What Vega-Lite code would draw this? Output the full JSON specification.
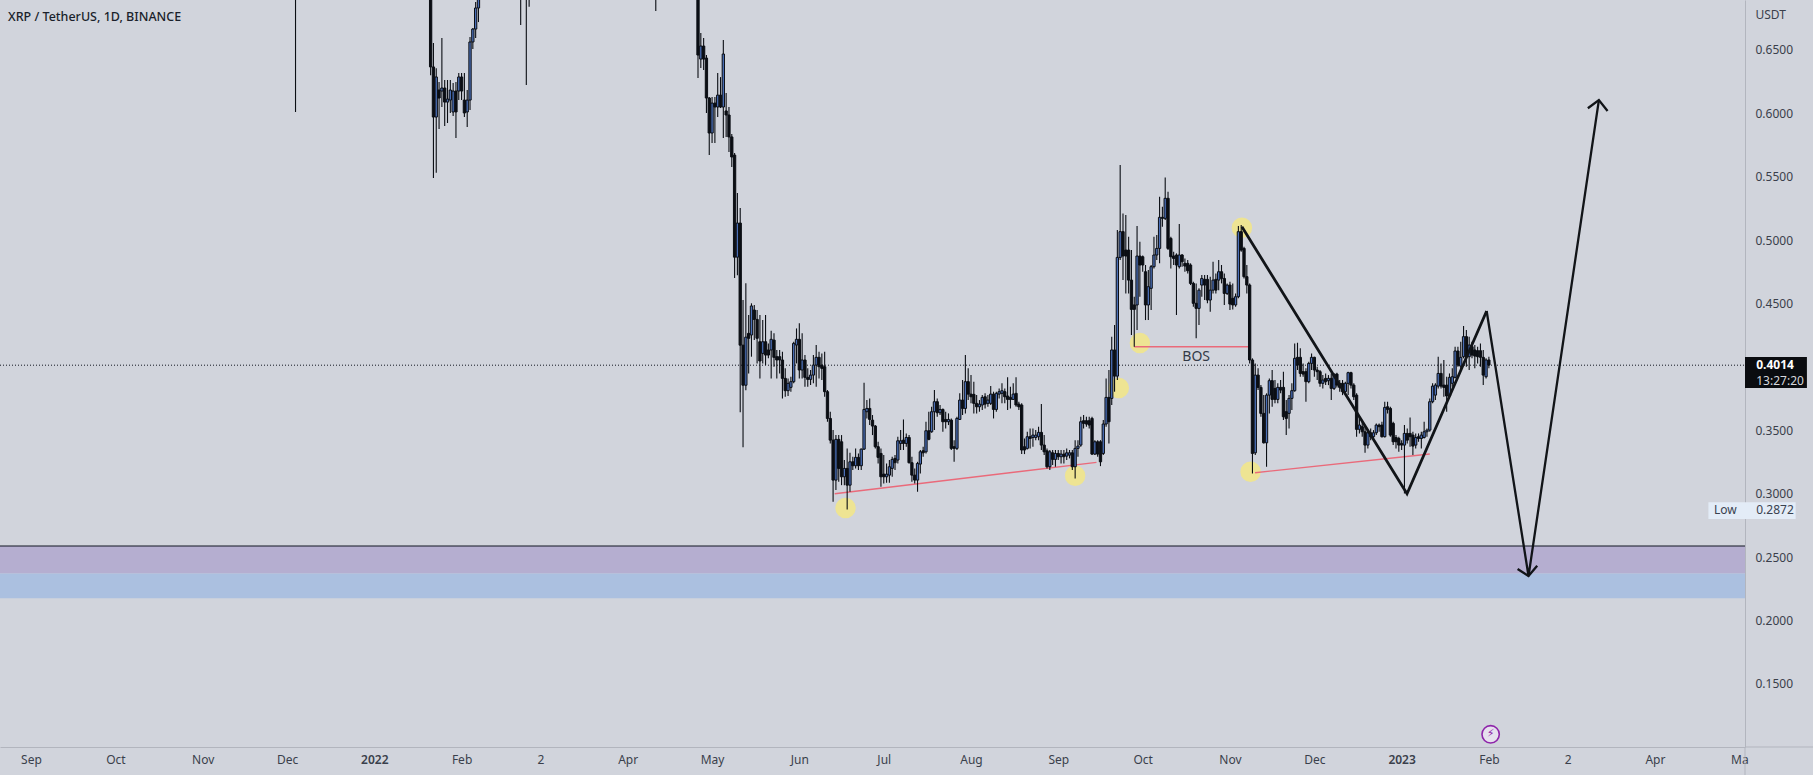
{"$schema":"https://vega.github.io/schema/vega-lite/v6.json","width":1745,"height":747,"padding":{"left":0,"top":0,"right":68,"bottom":28},"autosize":{"type":"none"},"background":"#d1d4dc","view":{"stroke":null},
"title":{"text":"XRP / TetherUS, 1D, BINANCE","anchor":"start","frame":"group","offset":-23,"dx":8,"font":"Noto Sans","fontSize":12.5,"fontWeight":500,"color":"#1a1f2b"},
"datasets":{"candles":[
{"t":"2021-12-04","o":0.86,"h":0.88,"l":0.6011,"c":0.8},
{"t":"2022-01-21","o":0.72,"h":0.74,"l":0.63,"c":0.6366},
{"t":"2022-01-22","o":0.6366,"h":0.6555,"l":0.549,"c":0.5971},
{"t":"2022-01-23","o":0.5971,"h":0.6355,"l":0.5532,"c":0.6287},
{"t":"2022-01-24","o":0.6184,"h":0.6247,"l":0.5876,"c":0.6121},
{"t":"2022-01-25","o":0.6176,"h":0.6594,"l":0.605,"c":0.62},
{"t":"2022-01-26","o":0.62,"h":0.6263,"l":0.59,"c":0.6089},
{"t":"2022-01-27","o":0.6089,"h":0.6263,"l":0.5924,"c":0.6113},
{"t":"2022-01-28","o":0.6105,"h":0.6263,"l":0.6002,"c":0.6184},
{"t":"2022-01-29","o":0.6011,"h":0.6239,"l":0.5979,"c":0.6176},
{"t":"2022-01-30","o":0.6176,"h":0.6247,"l":0.5806,"c":0.6011},
{"t":"2022-01-31","o":0.6176,"h":0.6318,"l":0.6105,"c":0.6287},
{"t":"2022-02-01","o":0.6287,"h":0.6318,"l":0.6105,"c":0.6176},
{"t":"2022-02-02","o":0.6105,"h":0.6318,"l":0.5971,"c":0.6003},
{"t":"2022-02-03","o":0.6011,"h":0.6184,"l":0.5893,"c":0.6105},
{"t":"2022-02-04","o":0.6105,"h":0.6602,"l":0.6027,"c":0.6563},
{"t":"2022-02-05","o":0.6563,"h":0.6673,"l":0.6508,"c":0.6665},
{"t":"2022-02-06","o":0.6665,"h":0.6878,"l":0.6594,"c":0.6831},
{"t":"2022-02-07","o":0.6831,"h":0.75,"l":0.672,"c":0.72},
{"t":"2022-02-22","o":0.74,"h":0.77,"l":0.6697,"c":0.72},
{"t":"2022-02-24","o":0.73,"h":0.75,"l":0.6224,"c":0.72},
{"t":"2022-02-25","o":0.72,"h":0.76,"l":0.684,"c":0.75},
{"t":"2022-04-11","o":0.74,"h":0.75,"l":0.6807,"c":0.7},
{"t":"2022-04-26","o":0.72,"h":0.73,"l":0.6279,"c":0.646},
{"t":"2022-04-27","o":0.6428,"h":0.6634,"l":0.6358,"c":0.6531},
{"t":"2022-04-28","o":0.6531,"h":0.6594,"l":0.6342,"c":0.6428},
{"t":"2022-04-29","o":0.6436,"h":0.646,"l":0.6003,"c":0.6121},
{"t":"2022-04-30","o":0.6121,"h":0.6129,"l":0.5671,"c":0.5845},
{"t":"2022-05-01","o":0.5845,"h":0.6129,"l":0.5766,"c":0.6081},
{"t":"2022-05-02","o":0.6081,"h":0.6129,"l":0.5766,"c":0.605},
{"t":"2022-05-03","o":0.605,"h":0.6318,"l":0.5971,"c":0.6144},
{"t":"2022-05-04","o":0.6144,"h":0.6286,"l":0.6042,"c":0.605},
{"t":"2022-05-05","o":0.605,"h":0.6578,"l":0.5806,"c":0.6468},
{"t":"2022-05-06","o":0.6019,"h":0.616,"l":0.5813,"c":0.5987},
{"t":"2022-05-07","o":0.5987,"h":0.605,"l":0.5695,"c":0.5814},
{"t":"2022-05-08","o":0.5814,"h":0.5837,"l":0.5577,"c":0.5656},
{"t":"2022-05-09","o":0.5671,"h":0.5687,"l":0.4702,"c":0.4866},
{"t":"2022-05-10","o":0.4866,"h":0.5372,"l":0.4724,"c":0.5135},
{"t":"2022-05-11","o":0.5135,"h":0.5253,"l":0.3643,"c":0.4172},
{"t":"2022-05-12","o":0.4172,"h":0.4528,"l":0.3367,"c":0.3856},
{"t":"2022-05-13","o":0.3856,"h":0.4661,"l":0.3817,"c":0.4235},
{"t":"2022-05-14","o":0.4265,"h":0.441,"l":0.3949,"c":0.4226},
{"t":"2022-05-15","o":0.4252,"h":0.4502,"l":0.4081,"c":0.4481},
{"t":"2022-05-16","o":0.4449,"h":0.4489,"l":0.4212,"c":0.4375},
{"t":"2022-05-17","o":0.4375,"h":0.4449,"l":0.4028,"c":0.4226},
{"t":"2022-05-18","o":0.4199,"h":0.441,"l":0.391,"c":0.4047},
{"t":"2022-05-19","o":0.4107,"h":0.437,"l":0.4028,"c":0.4199},
{"t":"2022-05-20","o":0.4199,"h":0.441,"l":0.4015,"c":0.4094},
{"t":"2022-05-21","o":0.4134,"h":0.4186,"l":0.4068,"c":0.4094},
{"t":"2022-05-22","o":0.4134,"h":0.4286,"l":0.391,"c":0.4218},
{"t":"2022-05-23","o":0.4212,"h":0.4265,"l":0.4002,"c":0.4076},
{"t":"2022-05-24","o":0.4081,"h":0.4134,"l":0.391,"c":0.4055},
{"t":"2022-05-25","o":0.4081,"h":0.4134,"l":0.3949,"c":0.4055},
{"t":"2022-05-26","o":0.4055,"h":0.412,"l":0.3752,"c":0.391},
{"t":"2022-05-27","o":0.391,"h":0.3989,"l":0.3765,"c":0.3813},
{"t":"2022-05-28","o":0.3813,"h":0.391,"l":0.3771,"c":0.3871},
{"t":"2022-05-29","o":0.3839,"h":0.3923,"l":0.3805,"c":0.3884},
{"t":"2022-05-30","o":0.3884,"h":0.4199,"l":0.3871,"c":0.4186},
{"t":"2022-05-31","o":0.4173,"h":0.4304,"l":0.4028,"c":0.4218},
{"t":"2022-06-01","o":0.4218,"h":0.4344,"l":0.391,"c":0.3976},
{"t":"2022-06-02","o":0.3976,"h":0.4265,"l":0.391,"c":0.4055},
{"t":"2022-06-03","o":0.4055,"h":0.4094,"l":0.3844,"c":0.3918},
{"t":"2022-06-04","o":0.3918,"h":0.3989,"l":0.3844,"c":0.3902},
{"t":"2022-06-05","o":0.3902,"h":0.3976,"l":0.3857,"c":0.3936},
{"t":"2022-06-06","o":0.3936,"h":0.4094,"l":0.3871,"c":0.4015},
{"t":"2022-06-07","o":0.4015,"h":0.4173,"l":0.3844,"c":0.4076},
{"t":"2022-06-08","o":0.4076,"h":0.412,"l":0.391,"c":0.4002},
{"t":"2022-06-09","o":0.4015,"h":0.4107,"l":0.3897,"c":0.3989},
{"t":"2022-06-10","o":0.4002,"h":0.412,"l":0.3765,"c":0.3805},
{"t":"2022-06-11","o":0.3805,"h":0.3818,"l":0.3568,"c":0.3594},
{"t":"2022-06-12","o":0.3594,"h":0.3647,"l":0.3397,"c":0.3423},
{"t":"2022-06-13","o":0.3423,"h":0.3502,"l":0.2937,"c":0.3108},
{"t":"2022-06-14","o":0.3108,"h":0.3463,"l":0.3029,"c":0.3429},
{"t":"2022-06-15","o":0.3429,"h":0.3463,"l":0.3095,"c":0.32},
{"t":"2022-06-16","o":0.341,"h":0.3463,"l":0.3068,"c":0.3134},
{"t":"2022-06-17","o":0.3134,"h":0.3266,"l":0.3068,"c":0.32},
{"t":"2022-06-18","o":0.32,"h":0.3358,"l":0.2876,"c":0.3068},
{"t":"2022-06-19","o":0.3068,"h":0.3323,"l":0.3016,"c":0.3252},
{"t":"2022-06-20","o":0.3252,"h":0.3292,"l":0.3187,"c":0.3221},
{"t":"2022-06-21","o":0.3221,"h":0.3358,"l":0.32,"c":0.3287},
{"t":"2022-06-22","o":0.3287,"h":0.3318,"l":0.3187,"c":0.3221},
{"t":"2022-06-23","o":0.3221,"h":0.3358,"l":0.3187,"c":0.3352},
{"t":"2022-06-24","o":0.3352,"h":0.3876,"l":0.3345,"c":0.3665},
{"t":"2022-06-25","o":0.3647,"h":0.3739,"l":0.3594,"c":0.3673},
{"t":"2022-06-26","o":0.3673,"h":0.3752,"l":0.3542,"c":0.3586},
{"t":"2022-06-27","o":0.3581,"h":0.3621,"l":0.3463,"c":0.3534},
{"t":"2022-06-28","o":0.3534,"h":0.3542,"l":0.3358,"c":0.3371},
{"t":"2022-06-29","o":0.3371,"h":0.341,"l":0.3239,"c":0.3287},
{"t":"2022-06-30","o":0.3318,"h":0.3358,"l":0.3055,"c":0.3134},
{"t":"2022-07-01","o":0.3155,"h":0.3305,"l":0.3082,"c":0.3134},
{"t":"2022-07-02","o":0.3134,"h":0.3239,"l":0.3087,"c":0.3155},
{"t":"2022-07-03","o":0.3147,"h":0.3266,"l":0.3087,"c":0.3213},
{"t":"2022-07-04","o":0.32,"h":0.3292,"l":0.3134,"c":0.3271},
{"t":"2022-07-05","o":0.3279,"h":0.3305,"l":0.3187,"c":0.3245},
{"t":"2022-07-06","o":0.3266,"h":0.345,"l":0.3239,"c":0.3418},
{"t":"2022-07-07","o":0.3397,"h":0.3502,"l":0.3345,"c":0.3418},
{"t":"2022-07-08","o":0.3423,"h":0.3586,"l":0.3345,"c":0.3397},
{"t":"2022-07-09","o":0.3397,"h":0.3476,"l":0.3371,"c":0.3444},
{"t":"2022-07-10","o":0.3444,"h":0.3463,"l":0.3239,"c":0.3245},
{"t":"2022-07-11","o":0.3245,"h":0.3292,"l":0.3095,"c":0.3147},
{"t":"2022-07-12","o":0.3147,"h":0.32,"l":0.3082,"c":0.3108},
{"t":"2022-07-13","o":0.3108,"h":0.3252,"l":0.3016,"c":0.3239},
{"t":"2022-07-14","o":0.3234,"h":0.3345,"l":0.316,"c":0.3331},
{"t":"2022-07-15","o":0.3339,"h":0.3371,"l":0.3292,"c":0.3323},
{"t":"2022-07-16","o":0.3331,"h":0.3568,"l":0.3318,"c":0.3497},
{"t":"2022-07-17","o":0.3497,"h":0.3647,"l":0.3423,"c":0.3429},
{"t":"2022-07-18","o":0.3489,"h":0.3686,"l":0.3481,"c":0.3647},
{"t":"2022-07-19","o":0.3647,"h":0.3818,"l":0.3502,"c":0.3726},
{"t":"2022-07-20","o":0.3726,"h":0.3752,"l":0.3608,"c":0.3639},
{"t":"2022-07-21","o":0.3639,"h":0.37,"l":0.3621,"c":0.3665},
{"t":"2022-07-22","o":0.3665,"h":0.3673,"l":0.3489,"c":0.3568},
{"t":"2022-07-23","o":0.3586,"h":0.3647,"l":0.3515,"c":0.3568},
{"t":"2022-07-24","o":0.3568,"h":0.3634,"l":0.3542,"c":0.3586},
{"t":"2022-07-25","o":0.3581,"h":0.3594,"l":0.3345,"c":0.3358},
{"t":"2022-07-26","o":0.3371,"h":0.3423,"l":0.3252,"c":0.3358},
{"t":"2022-07-27","o":0.3358,"h":0.3608,"l":0.3345,"c":0.3594},
{"t":"2022-07-28","o":0.3586,"h":0.3792,"l":0.3581,"c":0.3739},
{"t":"2022-07-29","o":0.3739,"h":0.3897,"l":0.3621,"c":0.3673},
{"t":"2022-07-30","o":0.3673,"h":0.4094,"l":0.3634,"c":0.3884},
{"t":"2022-07-31","o":0.3884,"h":0.3989,"l":0.3739,"c":0.3786},
{"t":"2022-08-01","o":0.3786,"h":0.3936,"l":0.3713,"c":0.3765},
{"t":"2022-08-02","o":0.3784,"h":0.3884,"l":0.3634,"c":0.3713},
{"t":"2022-08-03","o":0.3713,"h":0.3778,"l":0.3634,"c":0.3686},
{"t":"2022-08-04","o":0.3686,"h":0.3739,"l":0.3647,"c":0.3707},
{"t":"2022-08-05","o":0.37,"h":0.3778,"l":0.366,"c":0.376},
{"t":"2022-08-06","o":0.3765,"h":0.3792,"l":0.3673,"c":0.3707},
{"t":"2022-08-07","o":0.3713,"h":0.3778,"l":0.3686,"c":0.3739},
{"t":"2022-08-08","o":0.3713,"h":0.3849,"l":0.37,"c":0.3786},
{"t":"2022-08-09","o":0.3786,"h":0.3805,"l":0.3594,"c":0.3665},
{"t":"2022-08-10","o":0.3665,"h":0.3805,"l":0.3647,"c":0.3792},
{"t":"2022-08-11","o":0.3786,"h":0.3831,"l":0.3752,"c":0.3805},
{"t":"2022-08-12","o":0.3792,"h":0.3871,"l":0.3713,"c":0.3813},
{"t":"2022-08-13","o":0.3805,"h":0.3831,"l":0.3713,"c":0.3765},
{"t":"2022-08-14","o":0.3771,"h":0.3918,"l":0.366,"c":0.3744},
{"t":"2022-08-15","o":0.376,"h":0.3844,"l":0.3673,"c":0.3744},
{"t":"2022-08-16","o":0.3744,"h":0.3871,"l":0.3739,"c":0.3786},
{"t":"2022-08-17","o":0.3792,"h":0.3918,"l":0.3686,"c":0.37},
{"t":"2022-08-18","o":0.3707,"h":0.3726,"l":0.366,"c":0.3686},
{"t":"2022-08-19","o":0.37,"h":0.3713,"l":0.3313,"c":0.3345},
{"t":"2022-08-20","o":0.3371,"h":0.3436,"l":0.3313,"c":0.3345},
{"t":"2022-08-21","o":0.3358,"h":0.3489,"l":0.335,"c":0.345},
{"t":"2022-08-22","o":0.345,"h":0.3515,"l":0.3358,"c":0.3436},
{"t":"2022-08-23","o":0.3444,"h":0.3515,"l":0.3371,"c":0.3463},
{"t":"2022-08-24","o":0.3444,"h":0.3502,"l":0.3423,"c":0.3463},
{"t":"2022-08-25","o":0.345,"h":0.3529,"l":0.3423,"c":0.3484},
{"t":"2022-08-26","o":0.3484,"h":0.3707,"l":0.3345,"c":0.3384},
{"t":"2022-08-27","o":0.3384,"h":0.3463,"l":0.3305,"c":0.3331},
{"t":"2022-08-28","o":0.3339,"h":0.3358,"l":0.32,"c":0.3213},
{"t":"2022-08-29","o":0.3213,"h":0.3345,"l":0.3187,"c":0.3331},
{"t":"2022-08-30","o":0.3323,"h":0.3345,"l":0.3226,"c":0.3271},
{"t":"2022-08-31","o":0.3271,"h":0.3345,"l":0.3213,"c":0.3318},
{"t":"2022-09-01","o":0.3318,"h":0.3345,"l":0.3266,"c":0.3292},
{"t":"2022-09-02","o":0.3292,"h":0.3345,"l":0.3239,"c":0.3313},
{"t":"2022-09-03","o":0.3313,"h":0.3345,"l":0.3239,"c":0.3292},
{"t":"2022-09-04","o":0.3297,"h":0.3358,"l":0.3266,"c":0.3323},
{"t":"2022-09-05","o":0.3305,"h":0.3345,"l":0.3279,"c":0.3323},
{"t":"2022-09-06","o":0.3323,"h":0.3345,"l":0.3187,"c":0.3213},
{"t":"2022-09-07","o":0.3213,"h":0.3423,"l":0.3121,"c":0.3358},
{"t":"2022-09-08","o":0.3358,"h":0.3423,"l":0.3292,"c":0.3376},
{"t":"2022-09-09","o":0.3384,"h":0.3608,"l":0.3371,"c":0.3568},
{"t":"2022-09-10","o":0.3576,"h":0.3621,"l":0.3515,"c":0.3555},
{"t":"2022-09-11","o":0.3576,"h":0.3608,"l":0.3529,"c":0.355},
{"t":"2022-09-12","o":0.3576,"h":0.3608,"l":0.3515,"c":0.3542},
{"t":"2022-09-13","o":0.3594,"h":0.3608,"l":0.3305,"c":0.3313},
{"t":"2022-09-14","o":0.3313,"h":0.3423,"l":0.3305,"c":0.341},
{"t":"2022-09-15","o":0.341,"h":0.3423,"l":0.3292,"c":0.3313},
{"t":"2022-09-16","o":0.341,"h":0.3423,"l":0.3218,"c":0.3252},
{"t":"2022-09-17","o":0.3318,"h":0.3581,"l":0.3305,"c":0.355},
{"t":"2022-09-18","o":0.355,"h":0.391,"l":0.3529,"c":0.376},
{"t":"2022-09-19","o":0.376,"h":0.3976,"l":0.3397,"c":0.3568},
{"t":"2022-09-20","o":0.3752,"h":0.4239,"l":0.37,"c":0.4134},
{"t":"2022-09-21","o":0.4134,"h":0.4331,"l":0.3805,"c":0.3928},
{"t":"2022-09-22","o":0.3928,"h":0.508,"l":0.3897,"c":0.4864},
{"t":"2022-09-23","o":0.4864,"h":0.5593,"l":0.4843,"c":0.5067},
{"t":"2022-09-24","o":0.5067,"h":0.5211,"l":0.4685,"c":0.4875},
{"t":"2022-09-25","o":0.4922,"h":0.5198,"l":0.458,"c":0.4875},
{"t":"2022-09-26","o":0.4922,"h":0.5027,"l":0.458,"c":0.4685},
{"t":"2022-09-27","o":0.4685,"h":0.4922,"l":0.4252,"c":0.4454},
{"t":"2022-09-28","o":0.4489,"h":0.4554,"l":0.416,"c":0.4454},
{"t":"2022-09-29","o":0.4489,"h":0.5111,"l":0.4291,"c":0.4875},
{"t":"2022-09-30","o":0.4875,"h":0.4988,"l":0.4554,"c":0.4804},
{"t":"2022-10-01","o":0.4869,"h":0.488,"l":0.4751,"c":0.4804},
{"t":"2022-10-02","o":0.4751,"h":0.4804,"l":0.437,"c":0.4489},
{"t":"2022-10-03","o":0.4489,"h":0.4764,"l":0.437,"c":0.4633},
{"t":"2022-10-04","o":0.462,"h":0.4804,"l":0.4449,"c":0.4791},
{"t":"2022-10-05","o":0.4791,"h":0.5027,"l":0.4777,"c":0.4883},
{"t":"2022-10-06","o":0.4883,"h":0.504,"l":0.4843,"c":0.4935},
{"t":"2022-10-07","o":0.4935,"h":0.5343,"l":0.4817,"c":0.518},
{"t":"2022-10-08","o":0.518,"h":0.5264,"l":0.5106,"c":0.5172},
{"t":"2022-10-09","o":0.5172,"h":0.5495,"l":0.5159,"c":0.533},
{"t":"2022-10-10","o":0.533,"h":0.5382,"l":0.4922,"c":0.4935},
{"t":"2022-10-11","o":0.5014,"h":0.5027,"l":0.4777,"c":0.4869},
{"t":"2022-10-12","o":0.4875,"h":0.4909,"l":0.4804,"c":0.4856},
{"t":"2022-10-13","o":0.4883,"h":0.4896,"l":0.441,"c":0.4804},
{"t":"2022-10-14","o":0.4791,"h":0.5127,"l":0.4777,"c":0.4883},
{"t":"2022-10-15","o":0.4883,"h":0.489,"l":0.4791,"c":0.483},
{"t":"2022-10-16","o":0.4817,"h":0.4856,"l":0.4751,"c":0.4796},
{"t":"2022-10-17","o":0.4817,"h":0.4843,"l":0.4738,"c":0.4759},
{"t":"2022-10-18","o":0.4804,"h":0.4817,"l":0.4646,"c":0.4659},
{"t":"2022-10-19","o":0.4659,"h":0.4672,"l":0.4475,"c":0.4502},
{"t":"2022-10-20","o":0.4502,"h":0.4659,"l":0.4226,"c":0.4462},
{"t":"2022-10-21","o":0.4462,"h":0.462,"l":0.4331,"c":0.4606},
{"t":"2022-10-22","o":0.4646,"h":0.4725,"l":0.4554,"c":0.4698},
{"t":"2022-10-23","o":0.4691,"h":0.4725,"l":0.4528,"c":0.4646},
{"t":"2022-10-24","o":0.4691,"h":0.4725,"l":0.4502,"c":0.4528},
{"t":"2022-10-25","o":0.4528,"h":0.4712,"l":0.4436,"c":0.4606},
{"t":"2022-10-26","o":0.4606,"h":0.483,"l":0.458,"c":0.4685},
{"t":"2022-10-27","o":0.4691,"h":0.4738,"l":0.458,"c":0.4606},
{"t":"2022-10-28","o":0.4685,"h":0.4843,"l":0.4606,"c":0.4751},
{"t":"2022-10-29","o":0.4751,"h":0.4804,"l":0.4659,"c":0.4698},
{"t":"2022-10-30","o":0.4698,"h":0.4738,"l":0.4489,"c":0.458},
{"t":"2022-10-31","o":0.458,"h":0.4659,"l":0.4567,"c":0.4646},
{"t":"2022-11-01","o":0.4646,"h":0.4672,"l":0.4449,"c":0.4496},
{"t":"2022-11-02","o":0.4541,"h":0.4659,"l":0.4454,"c":0.4489},
{"t":"2022-11-03","o":0.4489,"h":0.458,"l":0.4475,"c":0.4554},
{"t":"2022-11-04","o":0.4554,"h":0.5111,"l":0.4541,"c":0.5067},
{"t":"2022-11-05","o":0.5067,"h":0.5119,"l":0.4909,"c":0.4922},
{"t":"2022-11-06","o":0.4935,"h":0.4948,"l":0.4698,"c":0.4712},
{"t":"2022-11-07","o":0.4712,"h":0.4804,"l":0.458,"c":0.4646},
{"t":"2022-11-08","o":0.4646,"h":0.4659,"l":0.4028,"c":0.4055},
{"t":"2022-11-09","o":0.4055,"h":0.4068,"l":0.316,"c":0.3318},
{"t":"2022-11-10","o":0.3323,"h":0.4028,"l":0.3305,"c":0.3936},
{"t":"2022-11-11","o":0.3936,"h":0.3989,"l":0.3818,"c":0.3839},
{"t":"2022-11-12","o":0.3839,"h":0.3857,"l":0.3608,"c":0.3634},
{"t":"2022-11-13","o":0.3634,"h":0.3778,"l":0.3397,"c":0.3402},
{"t":"2022-11-14","o":0.3402,"h":0.3792,"l":0.3213,"c":0.3778},
{"t":"2022-11-15","o":0.3778,"h":0.391,"l":0.3634,"c":0.3892},
{"t":"2022-11-16","o":0.3892,"h":0.3976,"l":0.3686,"c":0.3744},
{"t":"2022-11-17","o":0.3831,"h":0.3897,"l":0.3713,"c":0.3744},
{"t":"2022-11-18","o":0.3744,"h":0.3871,"l":0.3713,"c":0.3839},
{"t":"2022-11-19","o":0.3839,"h":0.3897,"l":0.3792,"c":0.3818},
{"t":"2022-11-20","o":0.3839,"h":0.3963,"l":0.3581,"c":0.3608},
{"t":"2022-11-21","o":0.3647,"h":0.3739,"l":0.3463,"c":0.3594},
{"t":"2022-11-22","o":0.3634,"h":0.3778,"l":0.3515,"c":0.3752},
{"t":"2022-11-23","o":0.3752,"h":0.3871,"l":0.366,"c":0.3813},
{"t":"2022-11-24","o":0.3813,"h":0.4186,"l":0.3805,"c":0.4068},
{"t":"2022-11-25","o":0.4076,"h":0.4191,"l":0.3976,"c":0.4015},
{"t":"2022-11-26","o":0.4076,"h":0.4147,"l":0.3923,"c":0.3949},
{"t":"2022-11-27","o":0.3963,"h":0.4028,"l":0.3923,"c":0.3944},
{"t":"2022-11-28","o":0.3963,"h":0.3989,"l":0.3726,"c":0.3884},
{"t":"2022-11-29","o":0.3884,"h":0.4041,"l":0.3871,"c":0.4028},
{"t":"2022-11-30","o":0.4028,"h":0.4107,"l":0.3976,"c":0.4076},
{"t":"2022-12-01","o":0.4076,"h":0.4081,"l":0.3923,"c":0.3976},
{"t":"2022-12-02","o":0.3976,"h":0.4002,"l":0.3897,"c":0.3963},
{"t":"2022-12-03","o":0.3963,"h":0.3976,"l":0.3844,"c":0.3871},
{"t":"2022-12-04","o":0.3871,"h":0.3936,"l":0.3831,"c":0.3897},
{"t":"2022-12-05","o":0.391,"h":0.3949,"l":0.3857,"c":0.3884},
{"t":"2022-12-06","o":0.3892,"h":0.3936,"l":0.3857,"c":0.391},
{"t":"2022-12-07","o":0.391,"h":0.3949,"l":0.3739,"c":0.3831},
{"t":"2022-12-08","o":0.3831,"h":0.3949,"l":0.3818,"c":0.3944},
{"t":"2022-12-09","o":0.3944,"h":0.3955,"l":0.3839,"c":0.3857},
{"t":"2022-12-10","o":0.3871,"h":0.3897,"l":0.3805,"c":0.3839},
{"t":"2022-12-11","o":0.3871,"h":0.3897,"l":0.3778,"c":0.3805},
{"t":"2022-12-12","o":0.3805,"h":0.3884,"l":0.3792,"c":0.3871},
{"t":"2022-12-13","o":0.3871,"h":0.3963,"l":0.3778,"c":0.3955},
{"t":"2022-12-14","o":0.3955,"h":0.3963,"l":0.3831,"c":0.3857},
{"t":"2022-12-15","o":0.3857,"h":0.3871,"l":0.3739,"c":0.3765},
{"t":"2022-12-16","o":0.3778,"h":0.3792,"l":0.345,"c":0.3508},
{"t":"2022-12-17","o":0.3508,"h":0.3608,"l":0.3476,"c":0.3542},
{"t":"2022-12-18","o":0.3529,"h":0.3568,"l":0.345,"c":0.3489},
{"t":"2022-12-19","o":0.3489,"h":0.3529,"l":0.3323,"c":0.3384},
{"t":"2022-12-20","o":0.3384,"h":0.3502,"l":0.3358,"c":0.3481},
{"t":"2022-12-21","o":0.3481,"h":0.3515,"l":0.3423,"c":0.345},
{"t":"2022-12-22","o":0.345,"h":0.3502,"l":0.3423,"c":0.3481},
{"t":"2022-12-23","o":0.3481,"h":0.3555,"l":0.3463,"c":0.3542},
{"t":"2022-12-24","o":0.3542,"h":0.3555,"l":0.3489,"c":0.3529},
{"t":"2022-12-25","o":0.3542,"h":0.3568,"l":0.3444,"c":0.345},
{"t":"2022-12-26","o":0.345,"h":0.3726,"l":0.3444,"c":0.3681},
{"t":"2022-12-27","o":0.3686,"h":0.3726,"l":0.3634,"c":0.3665},
{"t":"2022-12-28","o":0.3673,"h":0.3686,"l":0.345,"c":0.3463},
{"t":"2022-12-29","o":0.3555,"h":0.3568,"l":0.3384,"c":0.341},
{"t":"2022-12-30","o":0.3444,"h":0.3463,"l":0.3358,"c":0.341},
{"t":"2022-12-31","o":0.3436,"h":0.345,"l":0.3331,"c":0.3384},
{"t":"2023-01-01","o":0.3397,"h":0.3423,"l":0.3345,"c":0.3384},
{"t":"2023-01-02","o":0.3384,"h":0.3542,"l":0.3003,"c":0.3476},
{"t":"2023-01-03","o":0.3476,"h":0.3515,"l":0.3397,"c":0.3423},
{"t":"2023-01-04","o":0.3476,"h":0.3602,"l":0.3371,"c":0.345},
{"t":"2023-01-05","o":0.3463,"h":0.3489,"l":0.3305,"c":0.3376},
{"t":"2023-01-06","o":0.3384,"h":0.3476,"l":0.3358,"c":0.3444},
{"t":"2023-01-07","o":0.345,"h":0.3476,"l":0.341,"c":0.3436},
{"t":"2023-01-08","o":0.3436,"h":0.3489,"l":0.3358,"c":0.3463},
{"t":"2023-01-09","o":0.3444,"h":0.3568,"l":0.3436,"c":0.3489},
{"t":"2023-01-10","o":0.3489,"h":0.3515,"l":0.345,"c":0.3502},
{"t":"2023-01-11","o":0.3502,"h":0.3752,"l":0.3489,"c":0.3726},
{"t":"2023-01-12","o":0.3726,"h":0.3871,"l":0.3713,"c":0.3849},
{"t":"2023-01-13","o":0.3778,"h":0.3871,"l":0.3739,"c":0.3857},
{"t":"2023-01-14","o":0.3849,"h":0.4081,"l":0.3831,"c":0.3949},
{"t":"2023-01-15","o":0.3949,"h":0.4028,"l":0.3831,"c":0.3849},
{"t":"2023-01-16","o":0.3857,"h":0.4055,"l":0.3765,"c":0.3839},
{"t":"2023-01-17","o":0.3857,"h":0.3923,"l":0.3647,"c":0.3771},
{"t":"2023-01-18","o":0.3771,"h":0.3949,"l":0.3752,"c":0.3918},
{"t":"2023-01-19","o":0.3871,"h":0.3989,"l":0.3844,"c":0.3923},
{"t":"2023-01-20","o":0.3918,"h":0.416,"l":0.391,"c":0.4126},
{"t":"2023-01-21","o":0.4126,"h":0.416,"l":0.4002,"c":0.4015},
{"t":"2023-01-22","o":0.4007,"h":0.4199,"l":0.3976,"c":0.4076},
{"t":"2023-01-23","o":0.4081,"h":0.4323,"l":0.4068,"c":0.4239},
{"t":"2023-01-24","o":0.4239,"h":0.4291,"l":0.4002,"c":0.4081},
{"t":"2023-01-25","o":0.4081,"h":0.4239,"l":0.3976,"c":0.4173},
{"t":"2023-01-26","o":0.416,"h":0.4199,"l":0.4068,"c":0.4094},
{"t":"2023-01-27","o":0.4134,"h":0.4173,"l":0.3989,"c":0.4086},
{"t":"2023-01-28","o":0.4128,"h":0.416,"l":0.4028,"c":0.4081},
{"t":"2023-01-29","o":0.4128,"h":0.4186,"l":0.4002,"c":0.4076},
{"t":"2023-01-30","o":0.4076,"h":0.4134,"l":0.3857,"c":0.3936},
{"t":"2023-01-31","o":0.3923,"h":0.4068,"l":0.391,"c":0.4055},
{"t":"2023-02-01","o":0.4055,"h":0.4081,"l":0.3989,"c":0.4015}
]},
"encoding":{
"x":{"field":"t","type":"temporal","scale":{"type":"utc","padding":0,"domain":[{"year":2021,"month":8,"date":21,"utc":true},{"year":2023,"month":5,"date":3,"utc":true}]},"axis":{"title":null,"orient":"bottom","grid":false,"ticks":false,"domain":true,"domainColor":"#b2b5be","domainWidth":1,"labelPadding":7,"labelFont":"Noto Sans","labelFontSize":12,"labelColor":"#3a3f4b","labelOverlap":false,"labelBound":false,"labelFlush":false,"values":[{"year":2021,"month":9,"date":1,"utc":true},{"year":2021,"month":10,"date":1,"utc":true},{"year":2021,"month":11,"date":1,"utc":true},{"year":2021,"month":12,"date":1,"utc":true},{"year":2022,"month":1,"date":1,"utc":true},{"year":2022,"month":2,"date":1,"utc":true},{"year":2022,"month":3,"date":1,"utc":true},{"year":2022,"month":4,"date":1,"utc":true},{"year":2022,"month":5,"date":1,"utc":true},{"year":2022,"month":6,"date":1,"utc":true},{"year":2022,"month":7,"date":1,"utc":true},{"year":2022,"month":8,"date":1,"utc":true},{"year":2022,"month":9,"date":1,"utc":true},{"year":2022,"month":10,"date":1,"utc":true},{"year":2022,"month":11,"date":1,"utc":true},{"year":2022,"month":12,"date":1,"utc":true},{"year":2023,"month":1,"date":1,"utc":true},{"year":2023,"month":2,"date":1,"utc":true},{"year":2023,"month":3,"date":1,"utc":true},{"year":2023,"month":4,"date":1,"utc":true},{"year":2023,"month":5,"date":1,"utc":true}],"labelExpr":"utcmonth(datum.value)==0 ? utcFormat(datum.value,'%Y') : utcmonth(datum.value)==2 ? '2' : (utcmonth(datum.value)==4 && utcyear(datum.value)==2023) ? 'Ma' : utcFormat(datum.value,'%b')","labelFontWeight":{"condition":{"test":"utcmonth(datum.value)==0","value":600},"value":400}}},
"y":{"field":"p","type":"quantitative","scale":{"domain":[0.1003,0.6894],"zero":false,"nice":false,"padding":0},"axis":{"orient":"right","title":"USDT","titleAngle":0,"titleX":10,"titleY":14,"titleAlign":"left","titleBaseline":"middle","titleFont":"Noto Sans","titleFontSize":12,"titleFontWeight":400,"titleColor":"#3a3f4b","grid":false,"ticks":false,"domain":true,"domainColor":"#b2b5be","labelPadding":10,"labelFont":"Noto Sans","labelFontSize":12,"labelColor":"#3a3f4b","format":".4f","values":[0.15,0.2,0.25,0.3,0.35,0.4,0.45,0.5,0.55,0.6,0.65],"labelExpr":"datum.value==0.4 ? '' : datum.label"}}
},
"layer":[
{"data":{"values":[{"t":"2021-08-21","t2":"2023-05-03","p":0.2588,"p2":0.2372,"k":"a"},{"t":"2021-08-21","t2":"2023-05-03","p":0.2372,"p2":0.2176,"k":"b"}]},"mark":{"type":"rect"},"encoding":{"x2":{"field":"t2"},"y2":{"field":"p2"},"color":{"field":"k","type":"nominal","legend":null,"scale":{"domain":["a","b"],"range":["#b5aed0","#abc0e0"]}}}},
{"data":{"values":[{"t":"2021-08-21","t2":"2023-05-03","p":0.2588}]},"mark":{"type":"rule","color":"#131722","strokeWidth":1.2},"encoding":{"x2":{"field":"t2"}}},
{"data":{"values":[{"t":"2021-08-21","t2":"2023-05-03","p":0.4014}]},"mark":{"type":"rule","color":"#131722","strokeWidth":1,"strokeDash":[1,2]},"encoding":{"x2":{"field":"t2"}}},
{"data":{"values":[{"t":"2022-06-17T10:00:00Z","p":0.2888},{"t":"2022-09-07T00:00:00Z","p":0.3142},{"t":"2022-09-22T12:00:00Z","p":0.3834},{"t":"2022-09-30T00:00:00Z","p":0.4189},{"t":"2022-11-05T06:00:00Z","p":0.5098},{"t":"2022-11-08T08:00:00Z","p":0.3174}]},"mark":{"type":"point","shape":"circle","filled":true,"size":420,"color":"#efe58e","opacity":0.95}},
{"data":{"values":[{"t":"2022-06-13T14:00:00Z","p":0.3,"g":"a"},{"t":"2022-09-14T14:00:00Z","p":0.3248,"g":"a"},{"t":"2022-09-28T00:00:00Z","p":0.416,"g":"b"},{"t":"2022-11-08T02:00:00Z","p":0.416,"g":"b"},{"t":"2022-11-09T22:00:00Z","p":0.3166,"g":"c"},{"t":"2023-01-11T00:00:00Z","p":0.3314,"g":"c"}]},"mark":{"type":"line","color":"#ea6a7a","strokeWidth":1.4},"encoding":{"detail":{"field":"g"}}},
{"data":{"name":"candles"},"mark":{"type":"rule","color":"#0b0e14","strokeWidth":1.1,"clip":true},"encoding":{"y":{"field":"l","type":"quantitative","axis":{"orient":"right","title":"USDT","titleAngle":0,"titleX":10,"titleY":14,"titleAlign":"left","titleBaseline":"middle","titleFont":"Noto Sans","titleFontSize":12,"titleFontWeight":400,"titleColor":"#3a3f4b","grid":false,"ticks":false,"domain":true,"domainColor":"#b2b5be","labelPadding":10,"labelFont":"Noto Sans","labelFontSize":12,"labelColor":"#3a3f4b","format":".4f","values":[0.15,0.2,0.25,0.3,0.35,0.4,0.45,0.5,0.55,0.6,0.65],"labelExpr":"datum.value==0.4 ? '' : datum.label"}},"y2":{"field":"h"}}},
{"data":{"name":"candles"},"mark":{"type":"bar","width":2.3,"stroke":"#0b0e14","strokeWidth":1,"clip":true},"encoding":{"y":{"field":"o","type":"quantitative","axis":{"orient":"right","title":"USDT","titleAngle":0,"titleX":10,"titleY":14,"titleAlign":"left","titleBaseline":"middle","titleFont":"Noto Sans","titleFontSize":12,"titleFontWeight":400,"titleColor":"#3a3f4b","grid":false,"ticks":false,"domain":true,"domainColor":"#b2b5be","labelPadding":10,"labelFont":"Noto Sans","labelFontSize":12,"labelColor":"#3a3f4b","format":".4f","values":[0.15,0.2,0.25,0.3,0.35,0.4,0.45,0.5,0.55,0.6,0.65],"labelExpr":"datum.value==0.4 ? '' : datum.label"}},"y2":{"field":"c"},"color":{"condition":{"test":"datum.c>datum.o","value":"#4a6fb8"},"value":"#0b0e14"}}},
{"data":{"values":[{"t":"2022-11-05T06:00:00Z","p":0.5106,"g":"z","i":1},{"t":"2023-01-02T22:00:00Z","p":0.3,"g":"z","i":2},{"t":"2023-01-31T05:00:00Z","p":0.4441,"g":"z","i":3}]},"mark":{"type":"line","color":"#111418","strokeWidth":2.8,"strokeJoin":"miter"},"encoding":{"order":{"field":"i"},"detail":{"field":"g"}}},
{"data":{"values":[{"t":"2023-01-31T05:00:00Z","p":0.4441,"g":"a","i":1},{"t":"2023-02-15T02:00:00Z","p":0.2351,"g":"a","i":2},{"t":"2023-03-12T02:00:00Z","p":0.6105,"g":"a","i":3},{"t":"2023-02-11T05:00:00Z","p":0.2407,"g":"b","i":1},{"t":"2023-02-15T02:00:00Z","p":0.2351,"g":"b","i":2},{"t":"2023-02-18T04:00:00Z","p":0.2433,"g":"b","i":3},{"t":"2023-03-08T04:00:00Z","p":0.604,"g":"c","i":1},{"t":"2023-03-12T02:00:00Z","p":0.6105,"g":"c","i":2},{"t":"2023-03-15T04:00:00Z","p":0.6019,"g":"c","i":3}]},"mark":{"type":"line","color":"#111418","strokeWidth":2.3,"strokeJoin":"miter"},"encoding":{"order":{"field":"i"},"detail":{"field":"g"}}},
{"data":{"values":[{"t":"2022-10-20T00:00:00Z","p":0.4081,"s":"BOS"}]},"mark":{"type":"text","font":"Noto Sans","fontSize":14,"color":"#333a47","align":"center","baseline":"middle"},"encoding":{"text":{"field":"s"}}},
{"data":{"values":[{"t":"2023-05-03","t2":"2023-05-25","p":0.4079,"p2":0.3834,"k":"x"}]},"mark":{"type":"rect","color":"#0a0c10"},"encoding":{"x2":{"field":"t2"},"y2":{"field":"p2"}}},
{"data":{"values":[{"t":"2023-04-20","t2":"2023-05-21","p":0.2933,"p2":0.2801}]},"mark":{"type":"rect","color":"#e3ecf7"},"encoding":{"x2":{"field":"t2"},"y2":{"field":"p2"}}},
{"data":{"values":[{"t":"2023-05-03","t2":"2023-06-10","p":0.1003},{"t":"2023-05-03","t2":"2023-05-03","p":0.1003,"p2":0.0782}]},"mark":{"type":"rule","color":"#b2b5be","strokeWidth":1},"encoding":{"x2":{"field":"t2"},"y2":{"field":"p2"}}},
{"data":{"values":[{"t":"2023-05-07","p":0.4018,"s":"0.4014"}]},"mark":{"type":"text","font":"Noto Sans","fontSize":12,"fontWeight":700,"color":"#ffffff","align":"left","baseline":"middle"},"encoding":{"text":{"field":"s"}}},
{"data":{"values":[{"t":"2023-05-07","p":0.3893,"s":"13:27:20"}]},"mark":{"type":"text","font":"Noto Sans","fontSize":12,"color":"#d5d7dd","align":"left","baseline":"middle"},"encoding":{"text":{"field":"s"}}},
{"data":{"values":[{"t":"2023-04-22","p":0.2872,"s":"Low"},{"t":"2023-05-07","p":0.2872,"s":"0.2872"}]},"mark":{"type":"text","font":"Noto Sans","fontSize":12,"color":"#3a4250","align":"left","baseline":"middle"},"encoding":{"text":{"field":"s"}}},
{"data":{"values":[{"t":"2023-02-01T15:00:00Z","p":0.1103}]},"mark":{"type":"point","shape":"circle","filled":true,"size":300,"fill":"#e6e0ee","stroke":"#8e24aa","strokeWidth":1.6,"opacity":1}},
{"data":{"values":[{"t":"2023-02-01T15:00:00Z","p":0.1103,"s":"⚡"}]},"mark":{"type":"text","font":"DejaVu Sans","fontSize":11,"color":"#8e24aa","align":"center","baseline":"middle"},"encoding":{"text":{"field":"s"}}}
]}
